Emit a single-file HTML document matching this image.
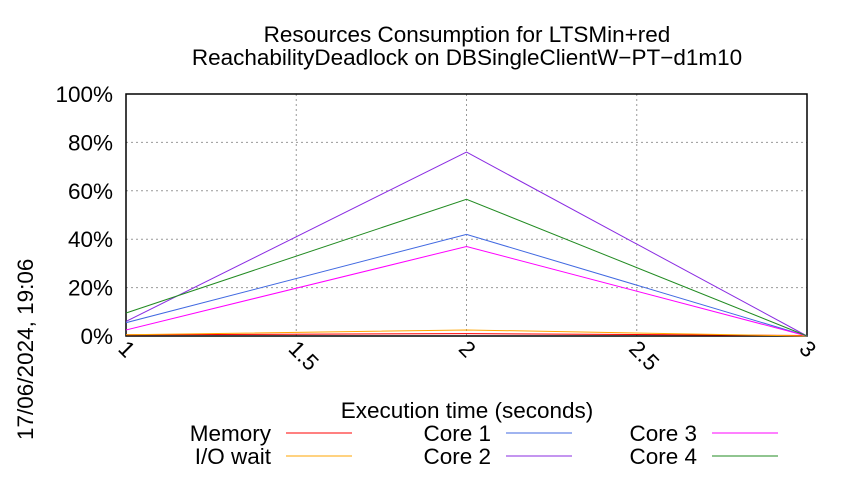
<!DOCTYPE html>
<html><head><meta charset="utf-8"><style>
body{margin:0;background:#fff;font-family:"Liberation Sans",sans-serif}
svg text{font-family:"Liberation Sans",sans-serif;fill:#000}
</style></head><body>
<svg width="850" height="475">
<text x="467" y="42" font-size="22.5" text-anchor="middle">Resources Consumption for LTSMin+red</text>
<text x="467" y="65" font-size="22.5" text-anchor="middle">ReachabilityDeadlock on DBSingleClientW−PT−d1m10</text>
<g id="grid"></g><g id="axes"></g><g id="series"></g>
<text x="467" y="418" font-size="22.5" text-anchor="middle">Execution time (seconds)</text>
<text transform="translate(33,440) rotate(-90)" font-size="22.5">17/06/2024, 19:06</text>
<g id="legend"></g>
</svg>
<script>
const xs=[1,2,3];
const memory=[0.5,1,0.2];
const iowait=[0.5,2.5,0];
const core1=[5.5,42,0];
const core2=[6,76,0];
const core3=[2.5,37,0];
const core4=[9.5,56.5,0];
const yTicks=[0,20,40,60,80,100];
const xTicks=[1,1.5,2,2.5,3];
const xTickLabels=["1","1.5","2","2.5","3"];
const L=126,R=807,T=94,B=336;
const FS=22.5;
const ns="http://www.w3.org/2000/svg";
const X=v=>L+(v-1)/2*(R-L), Y=v=>B-v/100*(B-T);
function mk(p,t,a){const e=document.createElementNS(ns,t);for(const k in a)e.setAttribute(k,a[k]);p.appendChild(e);return e;}
const g=document.getElementById('grid'),ax=document.getElementById('axes'),s=document.getElementById('series'),lg=document.getElementById('legend');
yTicks.forEach(v=>{
 const l=mk(g,'line',{x1:L,x2:R,y1:Y(v),y2:Y(v),stroke:'#999','stroke-dasharray':'2,3','stroke-width':1});
 
 
 const t=mk(ax,'text',{x:L-13,y:Y(v)+8,'font-size':FS,'text-anchor':'end'});t.textContent=v+'%';
 
 
});
xTicks.forEach((v,i)=>{
 const l=mk(g,'line',{x1:X(v),x2:X(v),y1:T,y2:B,stroke:'#999','stroke-dasharray':'2,3','stroke-width':1});
 
 
 const t=mk(ax,'text',{transform:`translate(${X(v)-9},${B+14}) rotate(45)`,'font-size':FS});t.textContent=xTickLabels[i];
 
 
});
const f=mk(ax,'rect',{x:L,y:T,width:R-L,height:B-T,fill:'none',stroke:'#000','stroke-width':1.5});


const series=[["Memory",memory,"#ff0000"],["I/O wait",iowait,"#ffa500"],["Core 1",core1,"#4169e1"],["Core 2",core2,"#8a2be2"],["Core 3",core3,"#ff00ff"],["Core 4",core4,"#228b22"]];
series.forEach(([n,d,c],i)=>{
 const p=mk(s,'polyline',{points:xs.map((x,j)=>X(x)+','+Y(d[j])).join(' '),fill:'none',stroke:c,'stroke-width':1});
 
 
 const col=Math.floor(i/2),row=i%2;
 const lx=[271,491,697][col],ly=[433,456][row];
 const t=mk(lg,'text',{x:lx,y:ly+8,'font-size':FS,'text-anchor':'end'});t.textContent=n;
 
 
 const ll=mk(lg,'line',{x1:lx+15,x2:lx+81,y1:ly,y2:ly,stroke:c,'stroke-width':1});
 
 
});
</script>
</body></html>
